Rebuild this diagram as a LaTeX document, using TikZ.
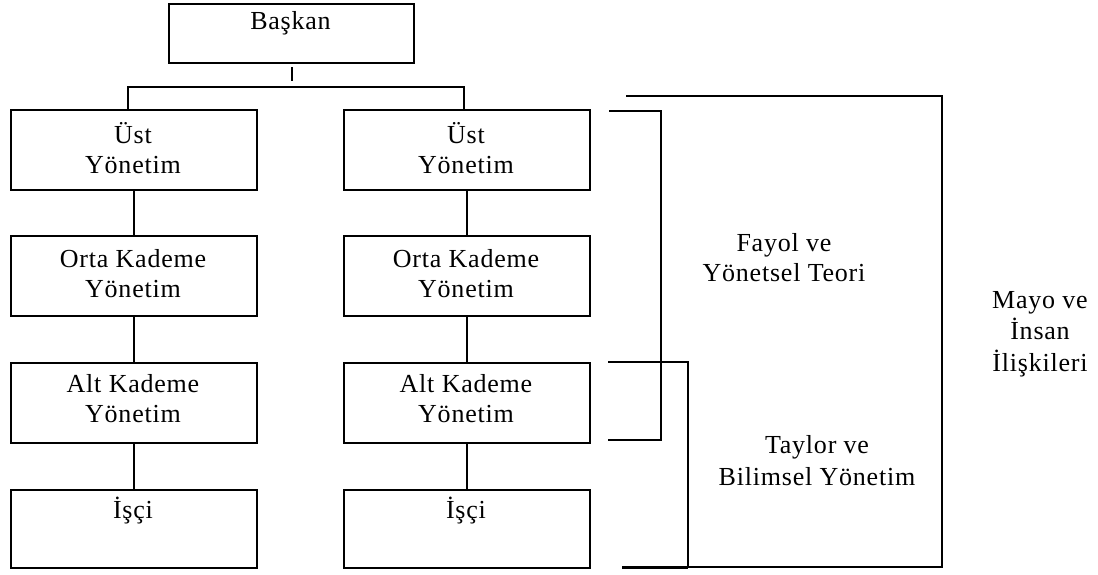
\documentclass[tikz,border=0pt]{standalone}
\usepackage{fontspec}
\setmainfont{Liberation Serif}[LetterSpace=3]
\usetikzlibrary{calc}
\begin{document}
\begin{tikzpicture}[x=1pt,y=-1pt,
  every node/.style={font=\fontsize{26}{30}\selectfont},
  box/.style={draw, line width=1.8pt, inner sep=0pt, anchor=north west, minimum height=80pt},
  colbox/.style={box, minimum width=246pt},
  txt/.style={align=center, inner sep=0pt},
  link/.style={line width=1.8pt},
  brk/.style={line width=1.8pt}]
\useasboundingbox (0,0) rectangle (1098,574);
% boxes
\node[box, minimum width=245pt, minimum height=59pt] (bk) at (168,3) {};
\node[colbox] (u1) at (10,109) {};
\node[colbox] (o1) at (10,235) {};
\node[colbox] (a1) at (10,362) {};
\node[colbox, minimum height=78pt] (i1) at (10,489) {};
\node[colbox] (u2) at (343,109) {};
\node[colbox] (o2) at (343,235) {};
\node[colbox] (a2) at (343,362) {};
\node[colbox, minimum height=78pt] (i2) at (343,489) {};
% box texts
\node[txt] (tbk) at (290.5,23) {Başkan};
\node[txt] (tu1) at (133,148) {Üst\\Yönetim};
\node[txt] (to1) at (133,273.5) {Orta Kademe\\Yönetim};
\node[txt] (ta1) at (133,398.5) {Alt Kademe\\Yönetim};
\node[txt] (ti1) at (133,511) {İşçi};
\node[txt] (tu2) at (466,148) {Üst\\Yönetim};
\node[txt] (to2) at (466,273.5) {Orta Kademe\\Yönetim};
\node[txt] (ta2) at (466,398.5) {Alt Kademe\\Yönetim};
\node[txt] (ti2) at (466,511) {İşçi};
% side texts
\node[txt] (fayol) at (784,258) {Fayol ve\\Yönetsel Teori};
\node[txt, font=\fontsize{26}{32}\selectfont] (taylor) at (817,461) {Taylor ve\\Bilimsel Yönetim};
\node[txt, font=\fontsize{26}{31.5}\selectfont] (mayo) at (1040,334) {Mayo ve\\İnsan\\İlişkileri};
% tree connectors
\coordinate (tk1) at (292,67);
\coordinate (tk2) at (292,81);
\draw[link] (tk1) -- (tk2);
\draw[link] ($(u1.north)+(-6,0)$) -- ++(0,-22) -| ($(u2.north)+(-3,0)$);
\draw[link] (u1.south) -- (o1.north);
\draw[link] (o1.south) -- (a1.north);
\draw[link] (a1.south) -- (i1.north);
\draw[link] (u2.south) -- (o2.north);
\draw[link] (o2.south) -- (a2.north);
\draw[link] (a2.south) -- (i2.north);
% brackets
\coordinate (f1) at (609,111);
\coordinate (f2) at (661,111);
\coordinate (f3) at (661,440);
\coordinate (f4) at (608,440);
\draw[brk] (f1) -- (f2) -- (f3) -- (f4);
\coordinate (t1) at (608,362);
\coordinate (t2) at (688,362);
\coordinate (t3) at (688,567);
\coordinate (t4) at (622,567);
\draw[brk] (t1) -- (t2) -- (t3);
\draw[line width=3pt] (t3) -- (t4);
\coordinate (m1) at (626,96);
\coordinate (m2) at (942,96);
\coordinate (m3) at (942,567);
\draw[brk] (m1) -- (m2) -- (m3) -- (t3);
\end{tikzpicture}
\end{document}
